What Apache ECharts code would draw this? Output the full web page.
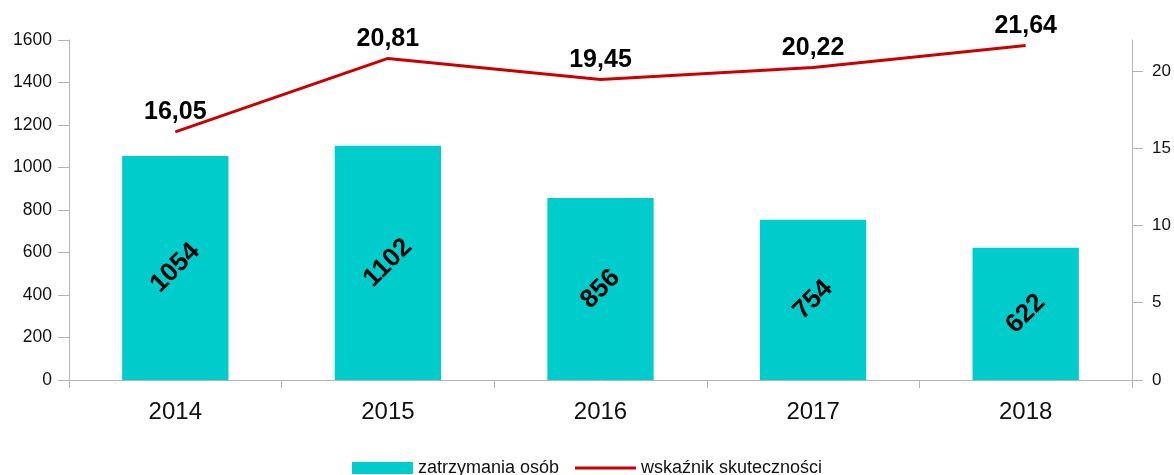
<!DOCTYPE html>
<html><head><meta charset="utf-8">
<script src="https://cdn.jsdelivr.net/npm/echarts@6/dist/echarts.min.js"></script>
<style>html,body{margin:0;padding:0;background:#fff}#c{width:1174px;height:475px}</style>
</head><body><div id="c"></div>
<script>
const categories = ['2014','2015','2016','2017','2018'];
const detentions = [1054, 1102, 856, 754, 622];
const effectiveness = [16.05, 20.81, 19.45, 20.22, 21.64];
const leftTicks = [0,200,400,600,800,1000,1200,1400,1600];
const rightTicks = [0,5,10,15,20];

const font = 'Liberation Sans, Arial, sans-serif';
const axisGray = '#b3b3b3';
const chart = echarts.init(document.getElementById('c'));
chart.setOption({
  animation: false,
  textStyle: {fontFamily: font},
  grid: {left: 69, right: 42, top: 40, bottom: 95},
  legend: {
    bottom: -7, left: 'center', itemWidth: 61, itemHeight: 12, itemGap: 16,
    textStyle: {fontFamily: font, fontSize: 18, color: '#111'},
    data: [{name: 'zatrzymania osób', icon: 'rect'}, {name: 'wskaźnik skuteczności', icon: 'path://M0,0h60v3h-60z'}]
  },
  xAxis: {
    type: 'category', data: categories,
    axisLine: {lineStyle: {color: axisGray}},
    axisTick: {show: true, length: 8, lineStyle: {color: axisGray}},
    axisLabel: {fontSize: 24, color: '#111', margin: 20, fontFamily: font}
  },
  yAxis: [{
    type: 'value', min: 0, max: 1600, interval: 200,
    axisLine: {show: true, lineStyle: {color: axisGray}},
    axisTick: {show: true, length: 11, lineStyle: {color: axisGray}, customValues: leftTicks},
    axisLabel: {fontSize: 17.5, color: '#111', margin: 17, fontFamily: font, customValues: leftTicks, formatter: v => String(v)},
    splitLine: {show: false}
  }, {
    type: 'value', min: 0, max: 22, interval: 5, position: 'right',
    axisLine: {show: true, lineStyle: {color: axisGray}},
    axisTick: {show: true, length: 11, lineStyle: {color: axisGray}, customValues: rightTicks},
    axisLabel: {fontSize: 17, color: '#111', margin: 20, fontFamily: font, customValues: rightTicks, formatter: v => String(v)},
    splitLine: {show: false}
  }],
  series: [{
    name: 'zatrzymania osób', type: 'bar', data: detentions, yAxisIndex: 0,
    barCategoryGap: '50%',
    itemStyle: {color: '#00CCCC'},
    label: {show: true, position: 'inside', rotate: 45, fontSize: 26, fontWeight: 'bold', color: '#000', fontFamily: font}
  }, {
    name: 'wskaźnik skuteczności', type: 'line', data: effectiveness, yAxisIndex: 1,
    symbol: 'circle', symbolSize: 0.01, showSymbol: true,
    lineStyle: {color: '#CC0000', width: 3}, itemStyle: {color: '#CC0000'},
    label: {show: true, position: 'top', distance: 7, fontSize: 25, fontWeight: 'bold', color: '#000', fontFamily: font,
      formatter: p => p.value.toFixed(2).replace('.', ',')}
  }]
});
</script></body></html>
